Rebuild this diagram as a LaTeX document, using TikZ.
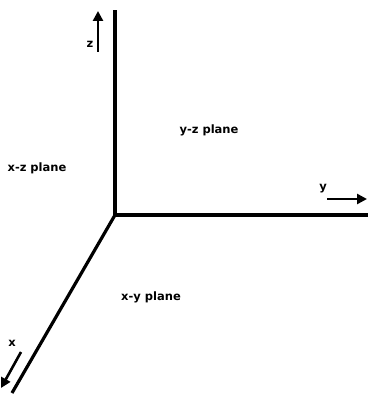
\documentclass[tikz,border=0pt]{standalone}
\usepackage{fontspec}
\setmainfont{DejaVu Sans}
\usetikzlibrary{arrows.meta}
\begin{document}
\begin{tikzpicture}[x=1pt,y=-1pt,
  axis/.style={line width=3.2pt},
  smallarrow/.style={line width=2.6pt,-{Triangle[length=10pt,width=10pt]}},
  lbl/.style={font=\fontsize{11.5}{13}\selectfont\bfseries, inner sep=0pt}]
\useasboundingbox (0,0) rectangle (369,395);
\coordinate (O) at (115,215);
\coordinate (zt) at (115,10);
\coordinate (ye) at (368,215);
\coordinate (xe) at (12,393);
\draw[axis] (O) -- (zt);
\draw[axis] (O) -- (ye);
\draw[axis] (O) -- (xe);
\coordinate (za) at (98,52);
\coordinate (zb) at (98,11);
\draw[smallarrow] (za) -- (zb);
\node[lbl] (zl) at (90,44) {z};
\coordinate (ya) at (327,199);
\coordinate (yb) at (367,199);
\draw[smallarrow] (ya) -- (yb);
\node[lbl] (yl) at (323,189) {y};
\coordinate (xa) at (21,352);
\coordinate (xb) at (1,388);
\draw[smallarrow] (xa) -- (xb);
\node[lbl] (xl) at (12,343) {x};
\node[lbl] (yz) at (209,130) {y-z plane};
\node[lbl] (xz) at (37,168) {x-z plane};
\node[lbl] (xy) at (151,297) {x-y plane};
\end{tikzpicture}
\end{document}
